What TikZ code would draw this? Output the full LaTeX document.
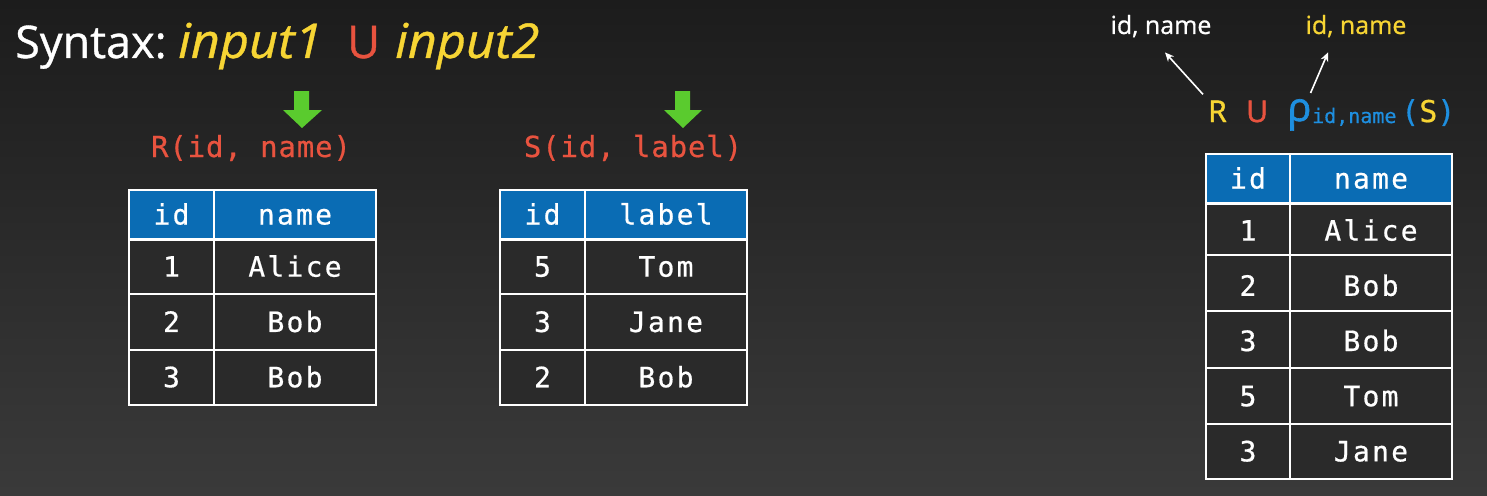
\documentclass[tikz,border=0pt]{standalone}
\usepackage{fontspec}
\setmainfont{Open Sans}[FakeBold=0.8, ItalicFeatures={FakeStretch=1.05}]
\newfontfamily\tabfont[LetterSpace=8, FakeBold=0.6]{DejaVu Sans Mono}
\newfontfamily\relfont[LetterSpace=3, FakeBold=0.6]{DejaVu Sans Mono}
\newfontfamily\subfont[FakeBold=0.6]{DejaVu Sans Mono}
\newfontfamily\symfont[FakeBold=1.6]{Open Sans}
\usetikzlibrary{arrows.meta}

\definecolor{bgtop}{HTML}{1C1C1C}
\definecolor{bgbot}{HTML}{3A3A3A}
\definecolor{synyellow}{HTML}{F7D534}
\definecolor{synred}{HTML}{E8533F}
\definecolor{hdrblue}{HTML}{0A6CB4}
\definecolor{rhoblue}{HTML}{1E8FE0}
\definecolor{argreen}{HTML}{5ACB2E}
\definecolor{rowgray}{HTML}{2A2A2A}

\tikzset{
  cell/.style={text=white, inner sep=0pt, text height=20pt, text depth=0pt,
    font=\tabfont\fontsize{28}{30}\selectfont},
  relname/.style={text=synred, inner sep=0pt, anchor=base,
    font=\relfont\fontsize{29}{32}\selectfont},
  tabline/.style={draw=white, line width=1.3pt},
  topsans/.style={inner sep=0pt, anchor=base west, font=\fontsize{45}{50}\selectfont},
  topital/.style={topsans, text=synyellow, font=\itshape\fontsize{48}{50}\selectfont},
  attrlbl/.style={inner sep=0pt, anchor=base, font=\fontsize{25}{28}\selectfont},
  formula/.style={inner sep=0pt, anchor=base west, font=\symfont\fontsize{30}{32}\selectfont},
  pointer/.style={draw=white, line width=1.6pt, -{Stealth[length=9pt,width=8pt]}},
}

\begin{document}
\begin{tikzpicture}[x=1pt, y=-1pt]

\shade[top color=bgtop, bottom color=bgbot] (0,0) rectangle (1487,495);
\useasboundingbox (0,0) rectangle (1487,495);

% title line
\node[topsans, text=white] (syn) at (15,58) {Syntax:};
\node[topital] (in1) at (178,58) {input1};
\node[topsans, text=synred] (uni) at (347,58) {U};
\node[topital] (in2) at (395,58) {input2};

% green arrows
\fill[argreen] (294,91) -- (309,91) -- (309,110) -- (322,110) -- (302,128) -- (283,110) -- (294,110) -- cycle;
\fill[argreen] (675,91) -- (690,91) -- (690,110) -- (702,110) -- (683,128) -- (664,110) -- (675,110) -- cycle;

% relation names
\node[relname] (Rrel) at (251,157) {R(id, name)};
\node[relname] (Srel) at (633,157) {S(id, label)};

% table R
\fill[hdrblue] (129,190) rectangle (376,239);
\fill[rowgray] (129,239) rectangle (376,405);
\foreach \y in {294,350}
  \draw[tabline] (129,\y) -- (376,\y);
\draw[tabline] (129,190) rectangle (376,405);
\draw[tabline] (214,190) -- (214,405);
\draw[white, line width=3pt] (129,239) -- (376,239);
\node[cell] (Rh1) at (171.5,214.5) {id};
\node[cell] (Rh2) at (295,214.5) {name};
\foreach \i/\n [count=\k] in {1/Alice, 2/Bob, 3/Bob} {
  \node[cell] (Ra\k) at (171.5,{239+55.3*(\k-0.5)}) {\i};
  \node[cell] (Rb\k) at (295,{239+55.3*(\k-0.5)}) {\n};
}

% table S
\fill[hdrblue] (500,190) rectangle (747,239);
\fill[rowgray] (500,239) rectangle (747,405);
\foreach \y in {294,350}
  \draw[tabline] (500,\y) -- (747,\y);
\draw[tabline] (500,190) rectangle (747,405);
\draw[tabline] (585,190) -- (585,405);
\draw[white, line width=3pt] (500,239) -- (747,239);
\node[cell] (Sh1) at (542.5,214.5) {id};
\node[cell] (Sh2) at (666,214.5) {label};
\foreach \i/\n [count=\k] in {5/Tom, 3/Jane, 2/Bob} {
  \node[cell] (Sa\k) at (542.5,{239+55.3*(\k-0.5)}) {\i};
  \node[cell] (Sb\k) at (666,{239+55.3*(\k-0.5)}) {\n};
}

% formula R U rho(S)
\node[formula, text=synyellow] (Rsym) at (1208,122) {R};
\node[formula, text=synred] (usym) at (1246,122) {U};
\node[formula, text=rhoblue, font=\symfont\fontsize{40}{42}\selectfont] (rho) at (1287,121) {ρ};
\node[formula, text=rhoblue, font=\subfont\fontsize{20}{22}\selectfont] (rhosub) at (1312,123) {id,name};
\node[formula, text=rhoblue, font=\subfont\fontsize{30}{32}\selectfont] (Sarg) at (1401,122) {(\textcolor{synyellow}{S})};

% attribute labels
\node[attrlbl, text=white] (lblR) at (1161,34) {id, name};
\node[attrlbl, text=synyellow] (lblS) at (1356,34) {id, name};
\draw[pointer] ([shift={(-5,-6)}]Rsym.north west) -- ([xshift=4pt,yshift=-15pt]lblR.south);
\draw[pointer] ([shift={(-1,-6)}]rho.north east) -- ([xshift=-28pt,yshift=-15pt]lblS.south);

% result table
\fill[hdrblue] (1206,154) rectangle (1452,203);
\fill[rowgray] (1206,203) rectangle (1452,479);
\foreach \y in {255,311,368,424}
  \draw[tabline] (1206,\y) -- (1452,\y);
\draw[tabline] (1206,154) rectangle (1452,479);
\draw[tabline] (1290,154) -- (1290,479);
\draw[white, line width=3pt] (1206,203) -- (1452,203);
\node[cell] (Th1) at (1248,178.5) {id};
\node[cell] (Th2) at (1371,178.5) {name};
\foreach \i/\n [count=\k] in {1/Alice, 2/Bob, 3/Bob, 5/Tom, 3/Jane} {
  \node[cell] (Ta\k) at (1248,{203+55.2*(\k-0.5)}) {\i};
  \node[cell] (Tb\k) at (1371,{203+55.2*(\k-0.5)}) {\n};
}

\end{tikzpicture}
\end{document}
